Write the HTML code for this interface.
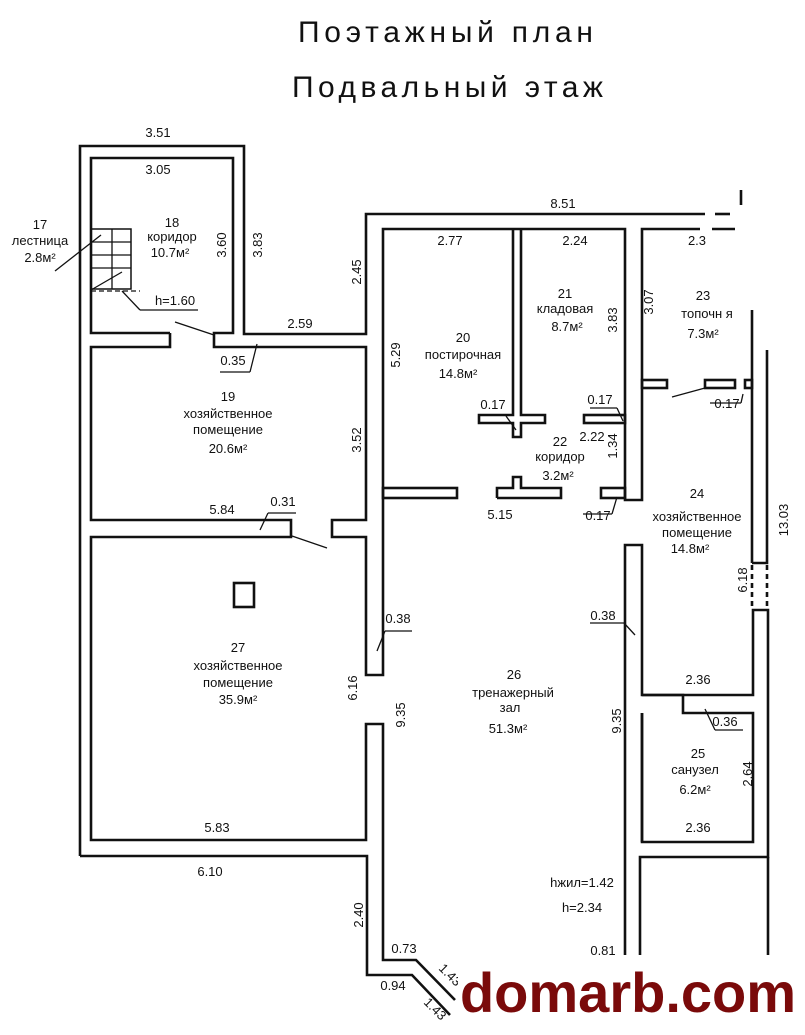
<!DOCTYPE html>
<html><head><meta charset="utf-8"><style>
html,body{margin:0;padding:0;background:#fff;}
svg{display:block;}
text{font-family:"Liberation Sans",sans-serif;fill:#111;}
.s{font-size:13px;}
.t{font-size:30px;}
</style></head><body>
<svg width="805" height="1035" viewBox="0 0 805 1035" xmlns="http://www.w3.org/2000/svg">
<g fill="none" stroke="#111" stroke-width="2.6">
<polyline points="80,856 80,146 244,146 244,334 366,334 366,214 705,214"/>
<line x1="715" y1="214" x2="730" y2="214" />
<polyline points="170,333 91,333 91,158 233,158 233,333 214,333 214,347 366,347 366,520 332,520 332,537 366,537 366,675 383,675 383,229 625,229 625,500 642,500 642,229 700,229"/>
<line x1="712" y1="229" x2="735" y2="229"/>
<polyline points="170,333 170,347 91,347 91,520 291,520 291,537 91,537 91,840 366,840 366,724 383,724 383,960 416,960 455,1000"/>
<polyline points="80,856 367,856 367,975 412,975 450,1015"/>
<polyline points="513,229 513,415 479,415 479,423 513,423 513,437 521,437 521,423 545,423 545,415 521,415 521,229"/>
<rect x="584" y="415" width="41" height="8"/>
<rect x="383" y="488" width="74" height="10"/>
<polyline points="497,498 561,498 561,488 521,488 521,477 513,477 513,488 497,488 497,498"/>
<rect x="601" y="488" width="24" height="10"/>
<rect x="642" y="380" width="25" height="8"/>
<rect x="705" y="380" width="30" height="8"/>
<rect x="745" y="380" width="7" height="8"/>
<line x1="752" y1="310" x2="752" y2="563"/>
<polyline points="767,350 767,563 752,563"/>
<line x1="752" y1="565" x2="752" y2="610" stroke-dasharray="5,4"/>
<line x1="767" y1="565" x2="767" y2="610" stroke-dasharray="5,4"/>
<line x1="741" y1="190" x2="741" y2="205"/>
<polyline points="625,1035 625,545 642,545 642,695 753,695 753,610 768,610 768,857 640,857 640,1035"/>
<polyline points="642,695 683,695 683,713 753,713 753,842 642,842 642,713"/>
<line x1="768" y1="857" x2="768" y2="1035"/>
<line x1="642" y1="713" x2="642" y2="842"/>
<rect x="234" y="583" width="20" height="24"/>
<rect x="91" y="229" width="40" height="60" stroke-width="1.5"/>
<g stroke-width="1.3">
<line x1="91" y1="242" x2="131" y2="242"/><line x1="91" y1="255" x2="131" y2="255"/><line x1="91" y1="268" x2="131" y2="268"/>
<line x1="112" y1="229" x2="112" y2="289"/>
<line x1="91" y1="290" x2="122" y2="272"/>
<line x1="91" y1="291" x2="140" y2="291" stroke-dasharray="5,3"/>
<line x1="122" y1="291" x2="140" y2="310"/><line x1="140" y1="310" x2="198" y2="310"/>
<line x1="55" y1="271" x2="101" y2="235"/>
<line x1="175" y1="322" x2="214" y2="335"/>
<line x1="220" y1="372" x2="250" y2="372"/><line x1="250" y1="372" x2="257" y2="344"/>
<line x1="268" y1="513" x2="296" y2="513"/><line x1="268" y1="513" x2="260" y2="530"/>
<line x1="292" y1="536" x2="327" y2="548"/>
<line x1="385" y1="631" x2="412" y2="631"/><line x1="385" y1="631" x2="377" y2="651"/>
<line x1="590" y1="623" x2="624" y2="623"/><line x1="624" y1="623" x2="635" y2="635"/>
<line x1="479" y1="415" x2="513" y2="415"/><line x1="506" y1="416" x2="516" y2="430"/>
<line x1="590" y1="408" x2="617" y2="408"/><line x1="617" y1="408" x2="623" y2="421"/>
<line x1="583" y1="514" x2="612" y2="514"/><line x1="612" y1="514" x2="617" y2="497"/>
<line x1="672" y1="397" x2="705" y2="388"/>
<line x1="710" y1="403" x2="741" y2="403"/><line x1="741" y1="403" x2="743" y2="394"/>
<line x1="705" y1="709" x2="715" y2="730"/><line x1="715" y1="730" x2="743" y2="730"/>
</g>
</g>
<g class="s" text-anchor="middle">
<text x="158" y="137">3.51</text>
<text x="158" y="174">3.05</text>
<text x="172" y="227">18</text>
<text x="172" y="241">коридор</text>
<text x="170" y="257">10.7м²</text>
<text x="40" y="229">17</text>
<text x="40" y="245">лестница</text>
<text x="40" y="262">2.8м²</text>
<text x="175" y="305">h=1.60</text>
<text x="233" y="365">0.35</text>
<text x="300" y="328">2.59</text>
<text x="228" y="401">19</text>
<text x="228" y="418">хозяйственное</text>
<text x="228" y="434">помещение</text>
<text x="228" y="453">20.6м²</text>
<text x="222" y="514">5.84</text>
<text x="283" y="506">0.31</text>
<text x="563" y="208">8.51</text>
<text x="450" y="245">2.77</text>
<text x="575" y="245">2.24</text>
<text x="697" y="245">2.3</text>
<text x="565" y="298">21</text>
<text x="565" y="313">кладовая</text>
<text x="567" y="331">8.7м²</text>
<text x="703" y="300">23</text>
<text x="707" y="318">топочн я</text>
<text x="703" y="338">7.3м²</text>
<text x="463" y="342">20</text>
<text x="463" y="359">постирочная</text>
<text x="458" y="378">14.8м²</text>
<text x="493" y="409">0.17</text>
<text x="600" y="404">0.17</text>
<text x="592" y="441">2.22</text>
<text x="560" y="446">22</text>
<text x="560" y="461">коридор</text>
<text x="558" y="480">3.2м²</text>
<text x="500" y="519">5.15</text>
<text x="598" y="520">0.17</text>
<text x="727" y="408">0.17</text>
<text x="697" y="498">24</text>
<text x="697" y="521">хозяйственное</text>
<text x="697" y="537">помещение</text>
<text x="690" y="553">14.8м²</text>
<text x="398" y="623">0.38</text>
<text x="603" y="620">0.38</text>
<text x="238" y="652">27</text>
<text x="238" y="670">хозяйственное</text>
<text x="238" y="687">помещение</text>
<text x="238" y="704">35.9м²</text>
<text x="514" y="679">26</text>
<text x="513" y="697">тренажерный</text>
<text x="510" y="712">зал</text>
<text x="508" y="733">51.3м²</text>
<text x="698" y="684">2.36</text>
<text x="725" y="726">0.36</text>
<text x="698" y="758">25</text>
<text x="695" y="774">санузел</text>
<text x="695" y="794">6.2м²</text>
<text x="698" y="832">2.36</text>
<text x="217" y="832">5.83</text>
<text x="210" y="876">6.10</text>
<text x="582" y="887">hжил=1.42</text>
<text x="582" y="912">h=2.34</text>
<text x="404" y="953">0.73</text>
<text x="393" y="990">0.94</text>
<text x="603" y="955">0.81</text>
</g>
<g class="s" text-anchor="middle">
<text transform="translate(226,245) rotate(-90)">3.60</text>
<text transform="translate(262,245) rotate(-90)">3.83</text>
<text transform="translate(361,272) rotate(-90)">2.45</text>
<text transform="translate(400,355) rotate(-90)">5.29</text>
<text transform="translate(361,440) rotate(-90)">3.52</text>
<text transform="translate(617,320) rotate(-90)">3.83</text>
<text transform="translate(653,302) rotate(-90)">3.07</text>
<text transform="translate(617,446) rotate(-90)">1.34</text>
<text transform="translate(788,520) rotate(-90)">13.03</text>
<text transform="translate(747,580) rotate(-90)">6.18</text>
<text transform="translate(357,688) rotate(-90)">6.16</text>
<text transform="translate(405,715) rotate(-90)">9.35</text>
<text transform="translate(621,721) rotate(-90)">9.35</text>
<text transform="translate(752,774) rotate(-90)">2.64</text>
<text transform="translate(363,915) rotate(-90)">2.40</text>
<text transform="translate(447,978) rotate(45)">1.43</text>
<text transform="translate(432,1012) rotate(45)">1.43</text>
</g>
<text class="t" x="298" y="42" textLength="295" lengthAdjust="spacing">Поэтажный план</text>
<text class="t" x="292" y="97" textLength="311" lengthAdjust="spacing">Подвальный этаж</text>
<rect x="458" y="955" width="347" height="80" fill="#fff"/>
<text x="628" y="1012" text-anchor="middle" style="font-size:56px;font-weight:bold;fill:#7a0a0a">domarb.com</text>
</svg>
</body></html>
